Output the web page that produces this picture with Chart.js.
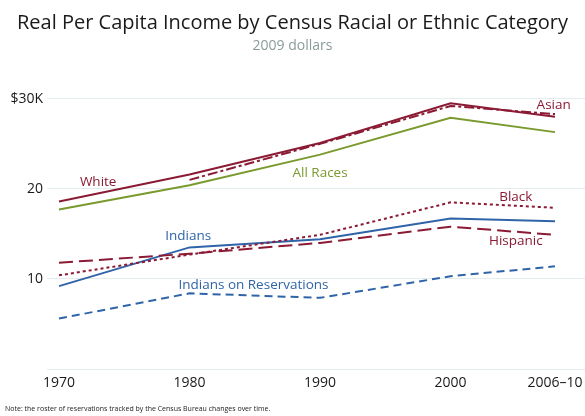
<!DOCTYPE html>
<html>
<head>
<meta charset="utf-8">
<script src="https://cdn.jsdelivr.net/npm/chart.js@4"></script>
<style>
html,body{margin:0;padding:0;background:#fff;}
#wrap{width:585px;height:416px;position:relative;}
</style>
</head>
<body>
<div id="wrap"><canvas id="c" width="585" height="416"></canvas></div>
<script>
const years = [1970, 1980, 1990, 2000, 2008];
const yearLabels = ['1970', '1980', '1990', '2000', '2006–10'];
const white = [18.6, 21.6, 25.1, 29.5, 28.0];
const asian = [null, 21.0, 25.0, 29.2, 28.3];
const allRaces = [17.7, 20.4, 23.8, 27.9, 26.3];
const black = [10.4, 12.7, 14.9, 18.5, 17.9];
const hispanic = [11.8, 12.8, 14.0, 15.8, 14.9];
const indians = [9.2, 13.5, 14.4, 16.7, 16.4];
const reservations = [5.6, 8.4, 7.9, 10.3, 11.4];
const yTicks = [0, 10, 20, 30];
const yTickLabels = ['', '10', '20', '$30K'];

const RED = '#8b1a34', GREEN = '#7a9a2e', BLUE = '#2f64a8';
const FONT = "'Open Sans', sans-serif";

function pts(vals){ return years.map((x,i)=>({x:x, y:vals[i]})).filter(p=>p.y!==null); }

const seriesLabels = [
  {text:'White', x:1973.0, y:20.8, color:RED},
  {text:'All Races', x:1990.0, y:21.7, color:GREEN},
  {text:'Asian', x:2007.9, y:29.3, color:RED},
  {text:'Black', x:2005.0, y:19.1, color:RED},
  {text:'Hispanic', x:2005.0, y:14.2, color:RED},
  {text:'Indians', x:1979.9, y:14.8, color:BLUE},
  {text:'Indians on Reservations', x:1984.9, y:9.3, color:BLUE}
];

const labelPlugin = {
  id:'seriesLabels',
  afterDatasetsDraw(chart){
    const ctx = chart.ctx, xs = chart.scales.x, ys = chart.scales.y;
    ctx.save();
    ctx.font = "13.5px " + FONT;
    ctx.textAlign = 'center';
    ctx.textBaseline = 'middle';
    seriesLabels.forEach(l=>{
      ctx.fillStyle = l.color;
      ctx.fillText(l.text, xs.getPixelForValue(l.x), ys.getPixelForValue(l.y));
    });
    ctx.restore();
  },
  afterDraw(chart){
    const ctx = chart.ctx;
    ctx.save();
    ctx.font = "7px " + FONT;
    ctx.fillStyle = '#222';
    ctx.textAlign = 'left';
    ctx.textBaseline = 'middle';
    ctx.fillText('Note: the roster of reservations tracked by the Census Bureau changes over time.', 5, 409);
    ctx.restore();
  }
};

function ds(label, vals, color, dash){
  return {label:label, data:pts(vals), borderColor:color, backgroundColor:color,
    borderWidth:2, borderDash:dash, pointRadius:0, tension:0, fill:false, spanGaps:false};
}

new Chart(document.getElementById('c'), {
  type:'line',
  data:{datasets:[
    ds('White', white, RED, []),
    ds('Asian', asian, RED, [10,3,3,3]),
    ds('All Races', allRaces, GREEN, []),
    ds('Black', black, RED, [3,3]),
    ds('Hispanic', hispanic, RED, [14,6]),
    ds('Indians', indians, BLUE, []),
    ds('Indians on Reservations', reservations, BLUE, [8,5])
  ]},
  options:{
    responsive:false, animation:false, devicePixelRatio:1,
    layout:{padding:{left:0,right:0,top:0,bottom:0}},
    plugins:{
      legend:{display:false}, tooltip:{enabled:false},
      title:{display:true, text:'Real Per Capita Income by Census Racial or Ethnic Category',
        color:'#1a1a1a', font:{family:FONT, size:20, weight:'normal'}, padding:{top:11,bottom:3}},
      subtitle:{display:true, text:'2009 dollars', color:'#8a9b9b',
        font:{family:FONT, size:14, weight:'normal'}, padding:{top:0,bottom:44}}
    },
    scales:{
      x:{type:'linear', min:1969.08, max:2010.3,
        grid:{display:false}, border:{display:false},
        afterBuildTicks(s){ s.ticks = years.map(v=>({value:v})); },
        afterFit(s){ s.height = 47; },
        ticks:{color:'#1a1a1a', font:{family:FONT,size:14}, padding:-2, maxRotation:0, autoSkip:false,
          callback(v){ const i = years.indexOf(v); return i>=0 ? yearLabels[i] : ''; }}
      },
      y:{min:0, max:30,
        grid:{color:'#e3edee', lineWidth:1, drawTicks:false}, border:{display:false},
        afterBuildTicks(s){ s.ticks = yTicks.map(v=>({value:v})); },
        afterFit(s){ s.width = 47; },
        ticks:{color:'#1a1a1a', font:{family:FONT,size:14}, padding:4,
          callback(v){ const i = yTicks.indexOf(v); return i>=0 ? yTickLabels[i] : ''; }}
      }
    }
  },
  plugins:[labelPlugin]
});
</script>
</body>
</html>
